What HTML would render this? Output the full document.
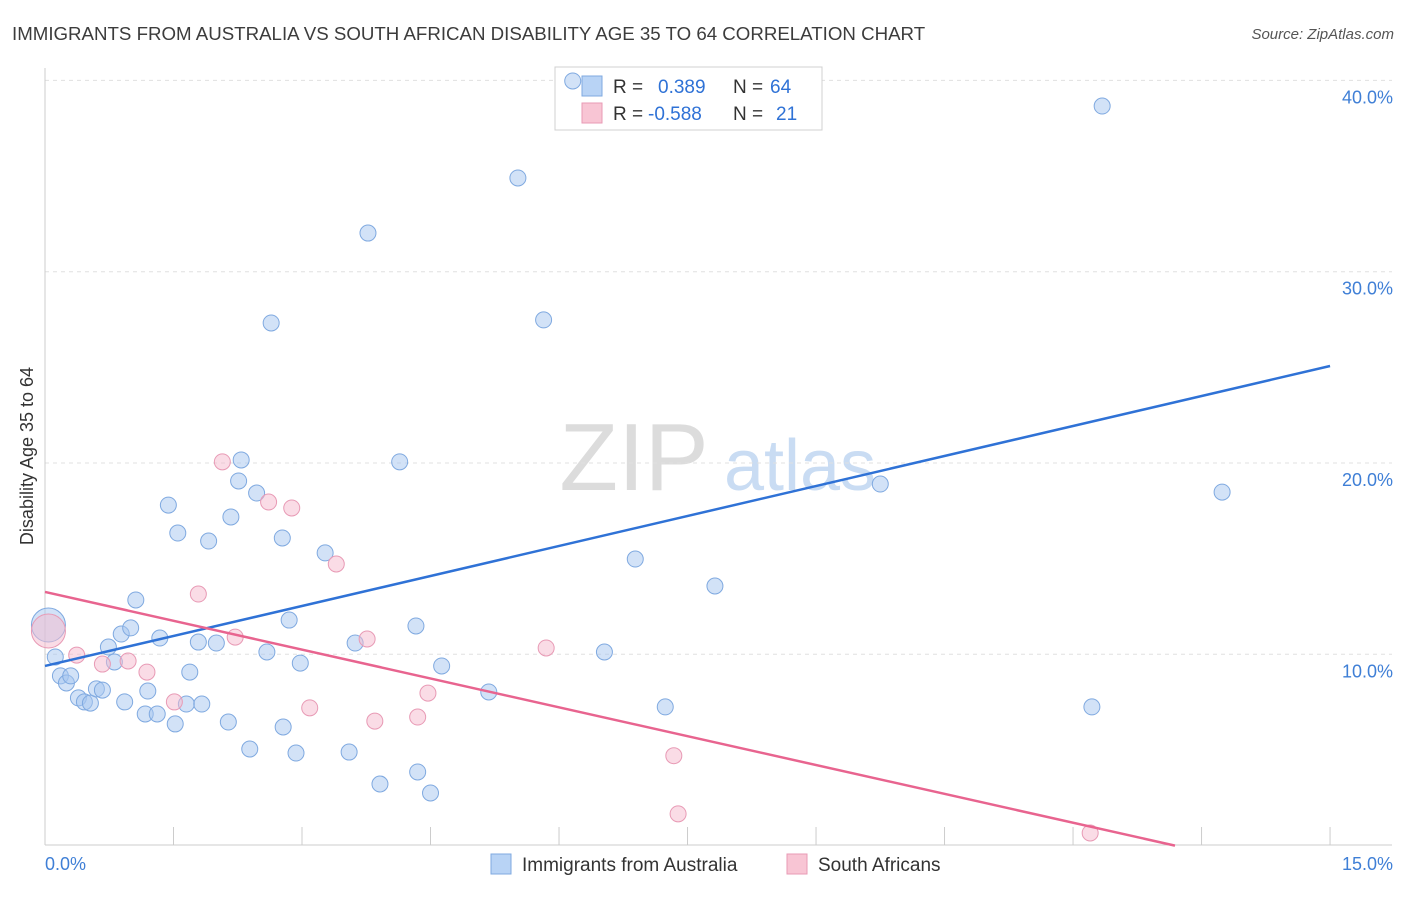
<!DOCTYPE html>
<html><head><meta charset="utf-8"><style>
body{margin:0;background:#fff;font-family:"Liberation Sans",Arial,sans-serif;}
svg text{font-family:"Liberation Sans",Arial,sans-serif;}
</style></head><body>
<svg id="chart" width="1406" height="892" xmlns="http://www.w3.org/2000/svg">
<text x="12" y="40" font-size="18.7" fill="#3c3c3c">IMMIGRANTS FROM AUSTRALIA VS SOUTH AFRICAN DISABILITY AGE 35 TO 64 CORRELATION CHART</text>
<text x="1394" y="39" font-size="15" fill="#555" text-anchor="end" font-style="italic">Source: ZipAtlas.com</text>
<text transform="translate(33,456) rotate(-90)" font-size="18" fill="#333" text-anchor="middle">Disability Age 35 to 64</text>
<g>
<text x="634" y="490" font-size="96" fill="#dcdcdc" font-family="Liberation Serif, serif" text-anchor="middle">ZIP</text>
<text x="800" y="490" font-size="72" fill="#c9dcf3" text-anchor="middle">atlas</text>
</g>
<g id="grid"></g><g id="axes"></g>
<g>
<rect x="555" y="67" width="267" height="63" fill="#fff" stroke="#d0d0d0"/>
<rect x="582" y="76" width="20" height="20" fill="#b8d3f5" stroke="#7fa9e0"/>
<rect x="582" y="103" width="20" height="20" fill="#f8c5d4" stroke="#e89ab5"/>
<text x="613" y="93" font-size="19" fill="#333">R =</text>
<text x="658" y="93" font-size="19" fill="#2f72d6">0.389</text>
<text x="733" y="93" font-size="19" fill="#333">N =</text>
<text x="770" y="93" font-size="19" fill="#2f72d6">64</text>
<text x="613" y="120" font-size="19" fill="#333">R =</text>
<text x="648" y="120" font-size="19" fill="#2f72d6">-0.588</text>
<text x="733" y="120" font-size="19" fill="#333">N =</text>
<text x="776" y="120" font-size="19" fill="#2f72d6">21</text>
</g>
<g id="marks"></g>
<g>
<rect x="491" y="854" width="20" height="20" fill="#b8d3f5" stroke="#7fa9e0"/>
<text x="522" y="871" font-size="19" fill="#333">Immigrants from Australia</text>
<rect x="787" y="854" width="20" height="20" fill="#f8c5d4" stroke="#e89ab5"/>
<text x="818" y="871" font-size="19" fill="#333">South Africans</text>
</g>
</svg>
<script>
const blueX=[0.04,0.12,0.18,0.25,0.30,0.39,0.46,0.53,0.60,0.67,0.74,0.81,0.89,0.93,1.00,1.06,1.20,1.17,1.31,1.34,1.44,1.52,1.55,1.65,1.69,1.79,1.83,1.91,2.00,2.14,2.17,2.26,2.29,2.39,2.47,2.59,2.64,2.77,2.78,2.85,2.93,2.98,3.27,3.55,3.62,3.77,3.91,4.14,4.33,4.35,4.50,4.63,5.18,5.52,5.82,6.16,6.53,6.89,7.24,7.82,9.75,12.22,12.34,13.74];
const blueY=[11.53,9.86,8.87,8.50,8.87,7.72,7.51,7.45,8.19,8.13,10.38,9.60,11.06,7.51,11.38,12.84,8.08,6.88,6.88,10.85,17.80,6.36,16.34,7.40,9.07,10.64,7.40,15.92,10.59,6.46,17.18,19.06,20.16,5.05,18.43,10.12,27.32,16.08,6.20,11.79,4.84,9.54,15.30,4.89,10.59,32.02,3.22,20.06,11.48,3.85,2.75,9.39,8.03,34.90,27.48,39.97,10.12,14.98,7.25,13.57,18.90,7.25,38.66,18.48];
const pinkX=[0.04,0.37,0.67,0.97,1.19,1.51,1.79,2.07,2.22,2.61,2.88,3.09,3.40,3.76,3.85,4.35,4.47,5.85,7.34,7.39,12.20];
const pinkY=[11.22,9.96,9.49,9.65,9.07,7.51,13.15,20.06,10.90,17.96,17.65,7.20,14.72,10.80,6.51,6.72,7.97,10.33,4.70,1.66,0.66];
const blueTrend=[9.39,25.07];
const pinkTrend=[13.26,-1.82];
const yTicks=[10,20,30,40];
const yTickLabels=["10.0%","20.0%","30.0%","40.0%"];
const xTickLabels=["0.0%","15.0%"];
const NS="http://www.w3.org/2000/svg";
const sx=v=>45+v*85.67, sy=v=>845.6-v*19.13;
function mk(tag,attrs,parent){const e=document.createElementNS(NS,tag);for(const k in attrs)e.setAttribute(k,attrs[k]);document.getElementById(parent).appendChild(e);return e;}
yTicks.forEach((t,i)=>{
 const g=mk('line',{x1:45,x2:1392,y1:sy(t),y2:sy(t),stroke:'#e0e0e0','stroke-dasharray':'4,4'},'grid');
 
 
 const l=mk('text',{x:1393,y:sy(t)+23,'font-size':18,fill:'#3f7fd6','text-anchor':'end'},'axes');
 l.textContent=yTickLabels[i];
 
 
});
const ax=mk('line',{x1:45,x2:1392,y1:845,y2:845,stroke:'#ccc'},'axes');


const ay=mk('line',{x1:45,x2:45,y1:68,y2:845,stroke:'#ccc'},'axes');


for(let i=0;i<=10;i++){const t=mk('line',{x1:sx(i*1.5),x2:sx(i*1.5),y1:827,y2:845,stroke:'#ccc'},'axes');
 
 }
const xl0=mk('text',{x:45,y:870,'font-size':18,fill:'#3f7fd6'},'axes');xl0.textContent=xTickLabels[0];


const xl1=mk('text',{x:1393,y:870,'font-size':18,fill:'#3f7fd6','text-anchor':'end'},'axes');xl1.textContent=xTickLabels[1];


blueX.forEach((x,i)=>{const c=mk('circle',{cx:sx(x),cy:sy(blueY[i]),r:i===0?17:8,fill:'rgba(165,198,240,0.5)',stroke:'#7fa9e0','stroke-width':1},'marks');
 
 });
pinkX.forEach((x,i)=>{const c=mk('circle',{cx:sx(x),cy:sy(pinkY[i]),r:i===0?17:8,fill:'rgba(246,185,205,0.5)',stroke:'#e89ab5','stroke-width':1},'marks');
 
 });
const bl=mk('line',{x1:sx(0),y1:sy(blueTrend[0]),x2:sx(15),y2:sy(blueTrend[1]),stroke:'#2f72d6','stroke-width':2.5},'marks');


const xe=pinkTrend[0]/(pinkTrend[0]-pinkTrend[1])*15;
const pl=mk('line',{x1:sx(0),y1:sy(pinkTrend[0]),x2:sx(xe),y2:sy(0),stroke:'#e8648f','stroke-width':2.5},'marks');


</script>
</body></html>
